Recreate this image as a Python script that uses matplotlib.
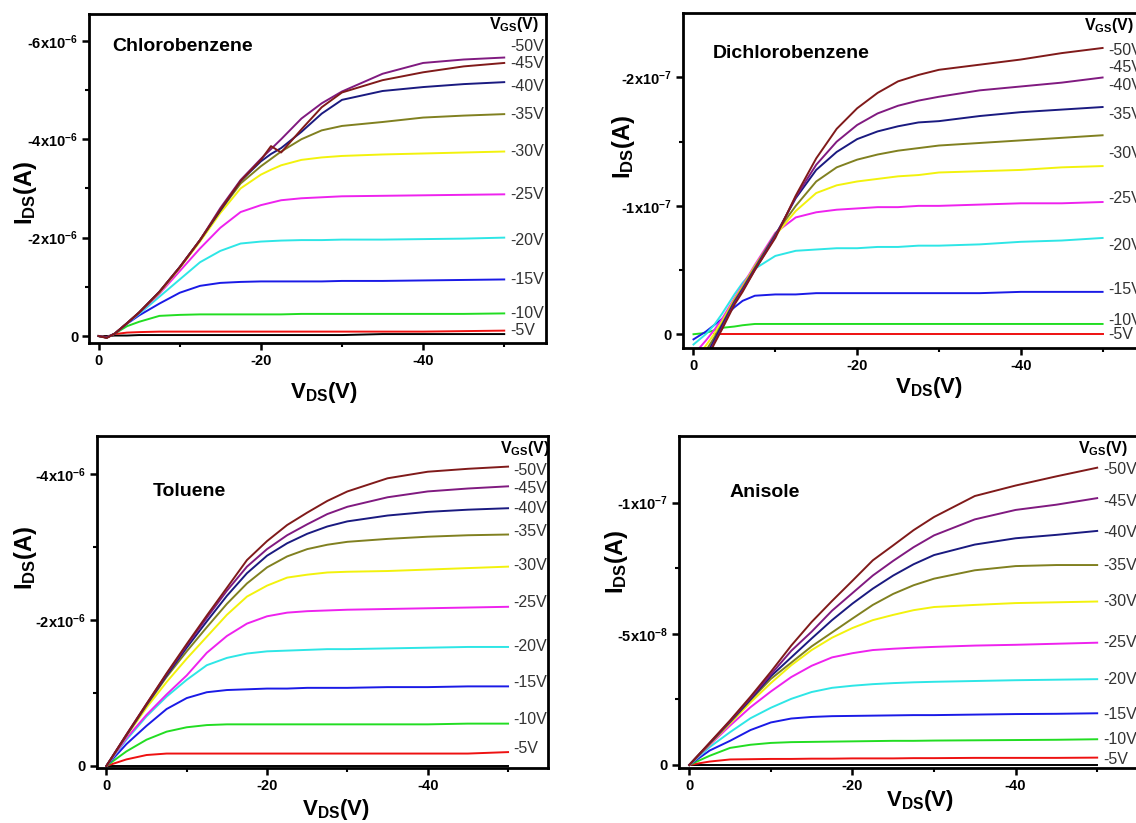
import numpy as np
import matplotlib
matplotlib.use('Agg')
import matplotlib.pyplot as plt
from matplotlib.ticker import FixedLocator

plt.rcParams['font.family'] = ['Liberation Sans', 'DejaVu Sans']
plt.rcParams['mathtext.fontset'] = 'custom'
plt.rcParams['mathtext.rm'] = 'Liberation Sans:bold'
plt.rcParams['mathtext.it'] = 'Liberation Sans:bold'
plt.rcParams['mathtext.bf'] = 'Liberation Sans:bold'
plt.rcParams['mathtext.default'] = 'rm'

# gate voltages (V) and Origin-style colours
vgs = [0, -5, -10, -15, -20, -25, -30, -35, -40, -45, -50]
colors = ['#000000', '#EE1111', '#22DD22', '#1A1AE6', '#2EE6E6', '#EE22EE',
          '#F2F20D', '#808020', '#1A1A80', '#801A80', '#801A1A']

# ---- Chlorobenzene, |I_DS| in 1e-6 A
vds_cb = [0, -1, -2, -3.5, -5, -7.5, -10, -12.5, -15, -17.5, -20, -21.25, -22.5, -25, -27.5, -30, -35, -40, -45, -50]
ids_cb = {
    0: [0, 0, 0.01, 0.01, 0.02, 0.02, 0.02, 0.02, 0.02, 0.02, 0.02, 0.02, 0.02, 0.02, 0.02, 0.02, 0.04, 0.04, 0.04, 0.04],
    -5: [0, -0.02, 0.04, 0.07, 0.08, 0.09, 0.09, 0.09, 0.09, 0.09, 0.09, 0.09, 0.09, 0.09, 0.09, 0.09, 0.09, 0.09, 0.10, 0.11],
    -10: [0, -0.03, 0.05, 0.2, 0.29, 0.41, 0.43, 0.44, 0.44, 0.44, 0.44, 0.44, 0.44, 0.45, 0.45, 0.45, 0.45, 0.45, 0.45, 0.46],
    -15: [0, -0.03, 0.05, 0.25, 0.42, 0.66, 0.88, 1.02, 1.08, 1.1, 1.11, 1.11, 1.11, 1.11, 1.11, 1.12, 1.12, 1.13, 1.14, 1.15],
    -20: [0, -0.03, 0.05, 0.26, 0.45, 0.8, 1.15, 1.5, 1.73, 1.88, 1.92, 1.93, 1.94, 1.95, 1.95, 1.96, 1.96, 1.97, 1.98, 2.0],
    -25: [0, -0.03, 0.05, 0.26, 0.47, 0.86, 1.32, 1.78, 2.2, 2.52, 2.66, 2.71, 2.76, 2.8, 2.82, 2.84, 2.85, 2.86, 2.87, 2.88],
    -30: [0, -0.03, 0.05, 0.26, 0.48, 0.88, 1.38, 1.92, 2.5, 3.0, 3.28, 3.38, 3.47, 3.58, 3.63, 3.66, 3.69, 3.71, 3.73, 3.75],
    -35: [0, -0.03, 0.05, 0.26, 0.48, 0.9, 1.4, 1.95, 2.55, 3.1, 3.45, 3.6, 3.75, 4.0, 4.18, 4.27, 4.35, 4.44, 4.48, 4.51],
    -40: [0, -0.03, 0.05, 0.26, 0.48, 0.9, 1.4, 1.95, 2.55, 3.15, 3.55, 3.7, 3.82, 4.15, 4.52, 4.8, 4.98, 5.06, 5.12, 5.16],
    -45: [0, -0.03, 0.05, 0.26, 0.48, 0.9, 1.4, 1.95, 2.6, 3.17, 3.6, 3.8, 4.0, 4.42, 4.73, 4.97, 5.33, 5.55, 5.62, 5.66],
    -50: [0, -0.04, 0.05, 0.26, 0.48, 0.9, 1.4, 1.95, 2.57, 3.15, 3.58, 3.86, 3.73, 4.2, 4.65, 4.95, 5.2, 5.36, 5.48, 5.55],
}

# ---- Dichlorobenzene, |I_DS| in 1e-7 A
vds_dcb = [0, -1.5, -2.5, -3.5, -5, -6, -7.5, -10, -12.5, -15, -17.5, -20, -22.5, -25, -27.5, -30, -35, -40, -45, -50]
ids_dcb = {
    -5: [np.nan, np.nan, 0, 0, 0, 0, 0, 0, 0, 0, 0, 0, 0, 0, 0, 0, 0, 0, 0, 0],
    -10: [0.0, 0.01, 0.03, 0.05, 0.06, 0.07, 0.08, 0.08, 0.08, 0.08, 0.08, 0.08, 0.08, 0.08, 0.08, 0.08, 0.08, 0.08, 0.08, 0.08],
    -15: [-0.04, 0.02, 0.07, 0.12, 0.21, 0.26, 0.3, 0.31, 0.31, 0.32, 0.32, 0.32, 0.32, 0.32, 0.32, 0.32, 0.32, 0.33, 0.33, 0.33],
    -20: [-0.08, 0.0, 0.07, 0.16, 0.31, 0.4, 0.51, 0.61, 0.65, 0.66, 0.67, 0.67, 0.68, 0.68, 0.69, 0.69, 0.7, 0.72, 0.73, 0.75],
    -25: [-0.16, -0.05, 0.03, 0.12, 0.28, 0.38, 0.54, 0.79, 0.91, 0.95, 0.97, 0.98, 0.99, 0.99, 1.0, 1.0, 1.01, 1.02, 1.02, 1.03],
    -30: [-0.22, -0.09, 0.0, 0.1, 0.27, 0.37, 0.53, 0.77, 0.96, 1.1, 1.16, 1.19, 1.21, 1.23, 1.24, 1.26, 1.27, 1.28, 1.3, 1.31],
    -35: [-0.28, -0.13, -0.03, 0.08, 0.26, 0.36, 0.52, 0.78, 1.0, 1.19, 1.3, 1.36, 1.4, 1.43, 1.45, 1.47, 1.49, 1.51, 1.53, 1.55],
    -40: [-0.33, -0.17, -0.05, 0.07, 0.25, 0.35, 0.51, 0.77, 1.06, 1.28, 1.42, 1.52, 1.58, 1.62, 1.65, 1.66, 1.7, 1.73, 1.75, 1.77],
    -45: [-0.37, -0.2, -0.07, 0.05, 0.24, 0.34, 0.5, 0.76, 1.07, 1.32, 1.5, 1.63, 1.72, 1.78, 1.82, 1.85, 1.9, 1.93, 1.96, 2.0],
    -50: [-0.4, -0.22, -0.08, 0.04, 0.23, 0.33, 0.5, 0.75, 1.08, 1.37, 1.6, 1.76, 1.88, 1.97, 2.02, 2.06, 2.1, 2.14, 2.19, 2.23],
}

# ---- Toluene, |I_DS| in 1e-6 A
vds_tol = [0, -2.5, -5, -7.5, -10, -12.5, -15, -17.5, -20, -22.5, -25, -27.5, -30, -35, -40, -45, -50]
ids_tol = {
    0: [0] * 17,
    -5: [0, 0.09, 0.15, 0.17, 0.17, 0.17, 0.17, 0.17, 0.17, 0.17, 0.17, 0.17, 0.17, 0.17, 0.17, 0.17, 0.19],
    -10: [0, 0.2, 0.36, 0.47, 0.53, 0.56, 0.57, 0.57, 0.57, 0.57, 0.57, 0.57, 0.57, 0.57, 0.57, 0.58, 0.58],
    -15: [0, 0.3, 0.55, 0.78, 0.93, 1.01, 1.04, 1.05, 1.06, 1.06, 1.07, 1.07, 1.07, 1.08, 1.08, 1.09, 1.09],
    -20: [0, 0.36, 0.68, 0.95, 1.18, 1.38, 1.48, 1.54, 1.57, 1.58, 1.59, 1.6, 1.6, 1.61, 1.62, 1.63, 1.63],
    -25: [0, 0.38, 0.7, 0.98, 1.24, 1.55, 1.78, 1.95, 2.05, 2.1, 2.12, 2.13, 2.14, 2.15, 2.16, 2.17, 2.18],
    -30: [0, 0.41, 0.8, 1.15, 1.47, 1.77, 2.07, 2.32, 2.47, 2.58, 2.62, 2.65, 2.66, 2.67, 2.69, 2.71, 2.73],
    -35: [0, 0.42, 0.83, 1.22, 1.57, 1.9, 2.22, 2.5, 2.72, 2.87, 2.97, 3.03, 3.07, 3.11, 3.14, 3.16, 3.17],
    -40: [0, 0.42, 0.84, 1.24, 1.62, 1.98, 2.33, 2.64, 2.88, 3.05, 3.18, 3.28, 3.35, 3.43, 3.48, 3.51, 3.53],
    -45: [0, 0.43, 0.85, 1.26, 1.65, 2.03, 2.4, 2.73, 2.97, 3.16, 3.31, 3.45, 3.55, 3.68, 3.76, 3.8, 3.83],
    -50: [0, 0.43, 0.85, 1.27, 1.67, 2.06, 2.44, 2.82, 3.08, 3.3, 3.47, 3.63, 3.76, 3.94, 4.03, 4.07, 4.1],
}

# ---- Anisole, |I_DS| in 1e-8 A
vds_ani = [0, -2.5, -5, -7.5, -10, -12.5, -15, -17.5, -20, -22.5, -25, -27.5, -30, -35, -40, -45, -50]
ids_ani = {
    0: [0] * 17,
    -5: [0, 0.13, 0.21, 0.22, 0.23, 0.23, 0.24, 0.24, 0.25, 0.25, 0.25, 0.26, 0.26, 0.27, 0.27, 0.27, 0.28],
    -10: [0, 0.35, 0.65, 0.77, 0.84, 0.87, 0.88, 0.89, 0.9, 0.91, 0.92, 0.92, 0.93, 0.94, 0.95, 0.96, 0.98],
    -15: [0, 0.55, 0.92, 1.33, 1.62, 1.77, 1.83, 1.86, 1.87, 1.88, 1.89, 1.9, 1.9, 1.92, 1.94, 1.95, 1.97],
    -20: [0, 0.68, 1.25, 1.78, 2.18, 2.52, 2.78, 2.94, 3.02, 3.08, 3.12, 3.15, 3.17, 3.2, 3.23, 3.25, 3.27],
    -25: [0, 0.76, 1.5, 2.2, 2.8, 3.35, 3.78, 4.1, 4.26, 4.38, 4.43, 4.47, 4.5, 4.55, 4.58, 4.62, 4.66],
    -30: [0, 0.79, 1.58, 2.38, 3.12, 3.8, 4.38, 4.85, 5.22, 5.52, 5.72, 5.9, 6.02, 6.1, 6.17, 6.2, 6.23],
    -35: [0, 0.81, 1.63, 2.47, 3.28, 3.9, 4.52, 5.05, 5.58, 6.1, 6.52, 6.85, 7.1, 7.42, 7.58, 7.62, 7.62],
    -40: [0, 0.82, 1.65, 2.5, 3.38, 4.1, 4.82, 5.52, 6.15, 6.72, 7.22, 7.65, 8.0, 8.4, 8.64, 8.77, 8.92],
    -45: [0, 0.83, 1.67, 2.55, 3.45, 4.35, 5.08, 5.88, 6.55, 7.22, 7.78, 8.3, 8.75, 9.36, 9.72, 9.92, 10.17],
    -50: [0, 0.85, 1.7, 2.6, 3.55, 4.55, 5.45, 6.25, 7.02, 7.8, 8.37, 8.95, 9.45, 10.25, 10.65, 11.0, 11.33],
}

level_text = ['-50V', '-45V', '-40V', '-35V', '-30V', '-25V', '-20V', '-15V', '-10V', '-5V']

panels = [
    dict(name='Chlorobenzene', vds=vds_cb, ids=ids_cb, unit=1e-6,
         rect=[0.0786, 0.5832, 0.4024, 0.3998], xlim=(1.15, -55.2), ylim=(0.142, -6.545),
         yticks=[0, -2, -4, -6], yminor=[-1, -3, -5],
         ylabels=['0', '-2x10$^{-6}$', '-4x10$^{-6}$', '-6x10$^{-6}$'],
         lab_y=[5.88, 5.53, 5.08, 4.51, 3.75, 2.88, 1.94, 1.14, 0.46, 0.12],
         name_xy=(0.051, 0.90), hdr_xy=(0.875, 0.967),
         ylab_xy=(-0.109, 0.456), xlab_xy=(0.513, -0.112)),
    dict(name='Dichlorobenzene', vds=vds_dcb, ids=ids_dcb, unit=1e-7,
         rect=[0.6011, 0.5772, 0.4199, 0.4074], xlim=(1.3, -57), ylim=(0.107, -2.505),
         yticks=[0, -1, -2], yminor=[-0.5, -1.5],
         ylabels=['0', '-1x10$^{-7}$', '-2x10$^{-7}$'],
         lab_y=[2.21, 2.08, 1.94, 1.71, 1.41, 1.06, 0.69, 0.35, 0.11, 0.0],
         name_xy=(0.063, 0.879), hdr_xy=(0.84, 0.963),
         ylab_xy=(-0.097, 0.6), xlab_xy=(0.515, -0.08)),
    dict(name='Toluene', vds=vds_tol, ids=ids_tol, unit=1e-6,
         rect=[0.0855, 0.0665, 0.3971, 0.4038], xlim=(1.15, -55.0), ylim=(0.0315, -4.52),
         yticks=[0, -2, -4], yminor=[-1, -3],
         ylabels=['0', '-2x10$^{-6}$', '-4x10$^{-6}$'],
         lab_y=[4.05, 3.80, 3.52, 3.21, 2.74, 2.24, 1.64, 1.14, 0.63, 0.24],
         name_xy=(0.124, 0.832), hdr_xy=(0.892, 0.963),
         ylab_xy=(-0.128, 0.633), xlab_xy=(0.529, -0.085)),
    dict(name='Anisole', vds=vds_ani, ids=ids_ani, unit=1e-8,
         rect=[0.5974, 0.0665, 0.4187, 0.4038], xlim=(1.3, -57), ylim=(0.126, -12.54),
         yticks=[0, -5, -10], yminor=[-2.5, -7.5],
         ylabels=['0', '-5x10$^{-8}$', '-1x10$^{-7}$'],
         lab_y=[11.27, 10.04, 8.86, 7.62, 6.23, 4.66, 3.24, 1.91, 0.98, 0.22],
         name_xy=(0.106, 0.829), hdr_xy=(0.84, 0.963),
         ylab_xy=(-0.103, 0.622), xlab_xy=(0.507, -0.06)),
]

fig = plt.figure(figsize=(11.36, 8.23), dpi=100)

for p in panels:
    ax = fig.add_axes(p['rect'])
    u = p['unit']
    x = np.array(p['vds'])
    for v, c in zip(vgs, colors):
        if v not in p['ids']:
            continue
        y = -np.array(p['ids'][v], dtype=float) * u
        ax.plot(x, y, color=c, lw=1.4)

    ax.set_xlim(*p['xlim'])
    ax.set_ylim(p['ylim'][0] * u, p['ylim'][1] * u)

    ax.xaxis.set_major_locator(FixedLocator([0, -20, -40]))
    ax.xaxis.set_minor_locator(FixedLocator([-10, -30, -50]))
    ax.set_xticklabels(['0', '-20', '-40'])
    ax.yaxis.set_major_locator(FixedLocator([t * u for t in p['yticks']]))
    ax.yaxis.set_minor_locator(FixedLocator([t * u for t in p['yminor']]))
    ax.set_yticklabels(p['ylabels'])

    for s in ax.spines.values():
        s.set_linewidth(2)
    ax.tick_params(which='major', direction='out', length=5, width=1.8, pad=3,
                   labelsize=10.5, top=False, right=False)
    ax.tick_params(which='minor', direction='out', length=3, width=1.5, top=False, right=False)
    for t in ax.get_xticklabels() + ax.get_yticklabels():
        t.set_fontweight('bold')

    ax.set_xlabel(r'$\mathrm{V_{DS}(V)}$', fontsize=16, va='top')
    ax.xaxis.set_label_coords(*p['xlab_xy'])
    ax.set_ylabel(r'$\mathrm{I_{DS}(A)}$', fontsize=17)
    ax.yaxis.set_label_coords(*p['ylab_xy'])

    ax.text(p['name_xy'][0], p['name_xy'][1], p['name'], transform=ax.transAxes,
            fontsize=14, fontweight='bold', ha='left', va='center')
    ax.text(p['hdr_xy'][0], p['hdr_xy'][1], r'$\mathrm{V_{GS}(V)}$', transform=ax.transAxes,
            fontsize=11.5, ha='left', va='center')
    for txt, yl in zip(level_text, p['lab_y']):
        ax.text(-50.7, -yl * u, txt, fontsize=11.5, color='#333333', ha='left', va='center')

fig.savefig('out.png', dpi=100)
